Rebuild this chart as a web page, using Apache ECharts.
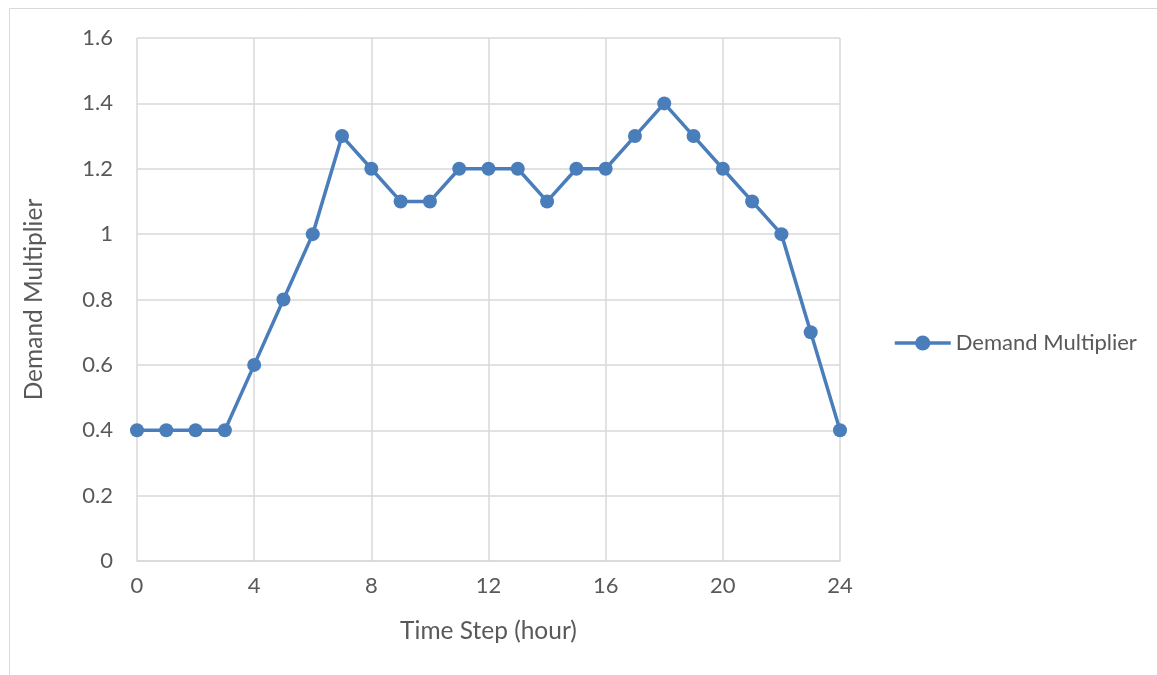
<!DOCTYPE html>
<html>
<head>
<meta charset="utf-8">
<script src="https://cdn.jsdelivr.net/npm/echarts@6/dist/echarts.min.js"></script>
<style>
  html, body { margin: 0; padding: 0; background: #fff; }
  #chart { width: 1157px; height: 675px; }
</style>
</head>
<body>
<div id="chart"></div>
<script>
// Hourly demand multiplier over a 24-hour day
const hours = [0, 1, 2, 3, 4, 5, 6, 7, 8, 9, 10, 11, 12, 13, 14, 15, 16, 17, 18, 19, 20, 21, 22, 23, 24];
const demandMultiplier = [0.4, 0.4, 0.4, 0.4, 0.6, 0.8, 1.0, 1.3, 1.2, 1.1, 1.1, 1.2, 1.2, 1.2, 1.1, 1.2, 1.2, 1.3, 1.4, 1.3, 1.2, 1.1, 1.0, 0.7, 0.4];
const seriesName = 'Demand Multiplier';
const xAxisTitle = 'Time Step (hour)';
const yAxisTitle = 'Demand Multiplier';

const textColor = '#595959';
const gridColor = '#d9d9d9';
const lineColor = '#4a7ebb';
const fontFamily = 'Lato, "Open Sans", sans-serif';

const chart = echarts.init(document.getElementById('chart'), null, { renderer: 'canvas' });

chart.setOption({
  backgroundColor: '#ffffff',
  animation: false,
  textStyle: { fontFamily: fontFamily },
  graphic: [{
    type: 'rect',
    shape: { x: 9.5, y: 8.5, width: 1300, height: 800 },
    style: { fill: 'none', stroke: '#d9d9d9', lineWidth: 1 },
    silent: true,
    z: -10
  }],
  grid: { left: 137, right: 317, top: 38, bottom: 114, containLabel: false },
  legend: {
    data: [seriesName],
    left: 888,
    top: 327,
    itemWidth: 56,
    itemHeight: 19,
    itemGap: 5,
    lineStyle: { width: 3.5 },
    textStyle: { color: textColor, fontSize: 22, fontFamily: fontFamily }
  },
  xAxis: {
    type: 'value',
    min: 0,
    max: 24,
    interval: 4,
    name: xAxisTitle,
    nameLocation: 'middle',
    nameGap: 58,
    nameTextStyle: { color: textColor, fontSize: 24.5, fontFamily: fontFamily },
    axisLine: { show: true, lineStyle: { color: gridColor, width: 1.5 } },
    axisTick: { show: false },
    axisLabel: { color: textColor, fontSize: 22, margin: 14, fontFamily: fontFamily },
    splitLine: { show: true, lineStyle: { color: gridColor, width: 1.5 } }
  },
  yAxis: {
    type: 'value',
    min: 0,
    max: 1.6,
    interval: 0.2,
    name: yAxisTitle,
    nameLocation: 'middle',
    nameGap: 90,
    nameRotate: 90,
    nameTextStyle: { color: textColor, fontSize: 24.5, fontFamily: fontFamily },
    axisLine: { show: false },
    axisTick: { show: false },
    axisLabel: {
      color: textColor, fontSize: 22, margin: 24, fontFamily: fontFamily,
      formatter: v => String(Math.round(v * 10) / 10)
    },
    splitLine: { show: true, lineStyle: { color: gridColor, width: 1.5 } }
  },
  series: [{
    name: seriesName,
    type: 'line',
    data: hours.map((h, i) => [h, demandMultiplier[i]]),
    symbol: 'circle',
    symbolSize: 14,
    lineStyle: { color: lineColor, width: 3.5 },
    itemStyle: { color: lineColor },
    z: 3
  }]
});
</script>
</body>
</html>
